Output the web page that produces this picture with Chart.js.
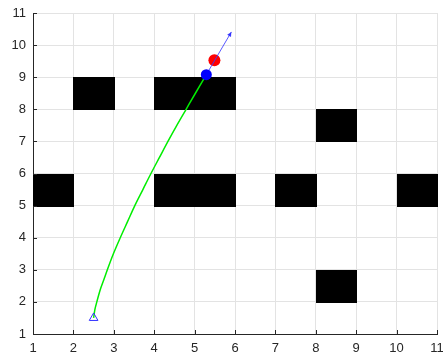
<!DOCTYPE html>
<html>
<head>
<meta charset="utf-8">
<script src="https://cdn.jsdelivr.net/npm/chart.js@4/dist/chart.umd.min.js"></script>
<style>
  html, body { margin: 0; padding: 0; background: #ffffff; }
  #wrap { width: 443px; height: 355px; position: relative; }
</style>
</head>
<body>
<div id="wrap"><canvas id="c" width="443" height="355"></canvas></div>
<script>
// Axis ticks
const xTicks = [1, 2, 3, 4, 5, 6, 7, 8, 9, 10, 11];
const yTicks = [1, 2, 3, 4, 5, 6, 7, 8, 9, 10, 11];

// Occupied grid cells (lower-left corner of each 1x1 cell)
const obstacleCells = [
  [1, 5], [2, 8], [4, 8], [5, 8], [4, 5], [5, 5],
  [7, 5], [8, 7], [10, 5], [8, 2]
];

// Travelled path
const pathX = [2.5, 2.53, 2.58, 2.67, 2.77, 2.84, 2.99, 3.16, 3.34, 3.52, 3.72, 3.92, 4.13, 4.34, 4.56, 4.79, 5.02, 5.29];
const pathY = [1.5, 1.75, 2.0, 2.4, 2.75, 3.0, 3.5, 4.0, 4.5, 5.0, 5.5, 6.0, 6.5, 7.0, 7.5, 8.0, 8.5, 9.08];

const startPoint = [2.5, 1.5];
const robotPoint = [5.29, 9.08];
const targetPoint = [5.49, 9.53];
const headingTip = [5.91, 10.41];

const toXY = (xs, ys) => xs.map((x, i) => ({ x: x, y: ys[i] }));

const gridMapPlugin = {
  id: 'gridMap',
  beforeDatasetsDraw(chart) {
    const { ctx, scales: { x, y } } = chart;
    ctx.save();
    ctx.fillStyle = '#000000';
    obstacleCells.forEach(([cx, cy]) => {
      const l = Math.round(x.getPixelForValue(cx)), r = Math.round(x.getPixelForValue(cx + 1));
      const t = Math.round(y.getPixelForValue(cy + 1)), b = Math.round(y.getPixelForValue(cy));
      ctx.fillRect(l, t, r - l + 1, b - t + 1);
    });
    ctx.restore();
  },
  afterDatasetsDraw(chart) {
    const { ctx, scales: { x, y } } = chart;
    // arrow head on the heading line
    const x0 = x.getPixelForValue(robotPoint[0]), y0 = y.getPixelForValue(robotPoint[1]);
    const x1 = x.getPixelForValue(headingTip[0]), y1 = y.getPixelForValue(headingTip[1]);
    const ang = Math.atan2(y1 - y0, x1 - x0);
    const len = 5, half = 0.45;
    ctx.save();
    ctx.fillStyle = 'rgba(40,40,255,0.9)';
    ctx.beginPath();
    ctx.moveTo(x1, y1);
    ctx.lineTo(x1 - len * Math.cos(ang - half), y1 - len * Math.sin(ang - half));
    ctx.lineTo(x1 - len * Math.cos(ang + half), y1 - len * Math.sin(ang + half));
    ctx.closePath();
    ctx.fill();
    ctx.restore();
  },
  afterDraw(chart) {
    // inward tick marks on the bottom and left axes
    const { ctx, chartArea: a, scales: { x, y } } = chart;
    ctx.save();
    ctx.strokeStyle = '#262626';
    ctx.lineWidth = 1;
    ctx.beginPath();
    xTicks.forEach(v => {
      const px = Math.round(x.getPixelForValue(v)) + 0.5;
      ctx.moveTo(px, a.bottom);
      ctx.lineTo(px, a.bottom - 4);
    });
    yTicks.forEach(v => {
      const py = Math.round(y.getPixelForValue(v)) + 0.5;
      ctx.moveTo(a.left, py);
      ctx.lineTo(a.left + 4, py);
    });
    ctx.stroke();
    ctx.restore();
  }
};

new Chart(document.getElementById('c'), {
  type: 'scatter',
  data: {
    datasets: [
      {
        data: toXY(pathX, pathY),
        showLine: true,
        borderColor: '#00ee00',
        borderWidth: 1.5,
        pointRadius: 0,
        cubicInterpolationMode: 'monotone',
        order: 5
      },
      {
        data: [{ x: targetPoint[0], y: targetPoint[1] }],
        pointRadius: 6,
        pointBackgroundColor: '#ff0000',
        pointBorderColor: '#ff0000',
        pointBorderWidth: 0,
        order: 4
      },
      {
        data: [{ x: robotPoint[0], y: robotPoint[1] }, { x: headingTip[0], y: headingTip[1] }],
        showLine: true,
        borderColor: 'rgba(60,60,255,0.85)',
        borderWidth: 1,
        pointRadius: 0,
        order: 3
      },
      {
        data: [{ x: robotPoint[0], y: robotPoint[1] }],
        pointRadius: 5.5,
        pointBackgroundColor: '#0000ff',
        pointBorderColor: '#0000ff',
        pointBorderWidth: 0,
        order: 2
      },
      {
        data: [{ x: startPoint[0], y: startPoint[1] }],
        pointStyle: 'triangle',
        pointRadius: 5,
        pointBackgroundColor: 'rgba(0,0,0,0)',
        pointBorderColor: '#3030ff',
        pointBorderWidth: 1,
        order: 1
      }
    ]
  },
  options: {
    responsive: false,
    animation: false,
    events: [],
    layout: { padding: { top: 13, right: 5, left: 0, bottom: 0 } },
    plugins: { legend: { display: false }, tooltip: { enabled: false } },
    scales: {
      x: {
        type: 'linear',
        min: 1, max: 11,
        afterBuildTicks(s) { s.ticks = xTicks.map(v => ({ value: v })); },
        afterFit(s) { s.height = 21; s.paddingLeft = 0; s.paddingRight = 0; },
        grid: { color: '#e3e3e3', lineWidth: 1, drawTicks: false },
        border: { color: '#262626', width: 1 },
        ticks: {
          padding: 7,
          color: '#262626',
          maxRotation: 0,
          autoSkip: false,
          font: { family: '"Liberation Sans", Arial, sans-serif', size: 13 }
        }
      },
      y: {
        type: 'linear',
        min: 1, max: 11,
        afterBuildTicks(s) { s.ticks = yTicks.map(v => ({ value: v })); },
        afterFit(s) { s.width = 33; s.paddingTop = 0; s.paddingBottom = 0; },
        grid: { color: '#e3e3e3', lineWidth: 1, drawTicks: false },
        border: { color: '#262626', width: 1 },
        ticks: {
          padding: 7,
          color: '#262626',
          autoSkip: false,
          font: { family: '"Liberation Sans", Arial, sans-serif', size: 13 }
        }
      }
    }
  },
  plugins: [gridMapPlugin]
});
</script>
</body>
</html>
